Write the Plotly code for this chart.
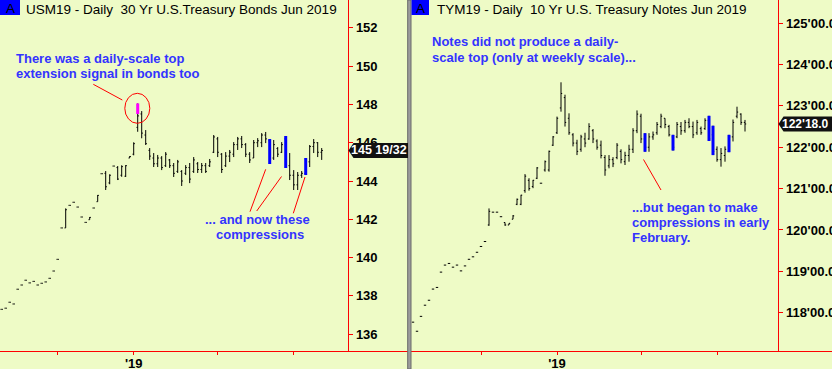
import plotly.graph_objects as go

W, H = 832, 369

# ---------------- data : USM19 (30 Yr T-Bond futures), daily bars ----------------
bond_idx = list(range(0, 81))
bond_open = [137.30, 137.36, 137.67, 137.58, 138.35, 138.57, 138.82, 138.68, 138.76, 138.57,
             138.66, 138.73, 138.92, 139.30, 139.91, 141.55, 141.55, 142.73, 142.89, 142.64,
             142.12, 141.84, 141.98, 142.59, 142.92, 144.38, 144.40, 143.90, 144.78, 144.70,
             144.30, 144.25, 145.20, 145.40, 146.80, 147.50, 146.40, 145.60, 145.20, 144.90,
             145.20, 144.80, 145.10, 144.80, 144.50, 144.50, 144.40, 144.70, 144.50, 144.90,
             144.60, 144.80, 144.80, 145.50, 146.20, 145.40, 144.80, 145.30, 145.40, 145.90,
             146.20, 145.90, 145.40, 145.20, 146.00, 146.00, 146.40, 146.10, 145.20, 145.70,
             145.50, 146.20, 144.80, 144.30, 143.80, 144.30, 144.40, 145.00, 145.80, 146.00,
             145.50]
bond_high = [137.30, 137.36, 137.67, 137.58, 138.35, 138.57, 138.82, 138.68, 138.76, 138.57,
             138.66, 138.73, 138.92, 139.30, 139.91, 141.55, 142.57, 142.73, 142.89, 142.64,
             142.12, 141.84, 142.12, 142.59, 143.27, 144.38, 144.52, 144.35, 144.78, 144.78,
             144.82, 144.83, 145.30, 146.02, 148.05, 147.65, 146.66, 145.72, 145.46, 145.36,
             145.30, 145.51, 145.15, 144.94, 145.10, 144.57, 144.83, 144.94, 145.25, 144.99,
             144.94, 144.94, 145.15, 146.40, 146.30, 145.46, 145.51, 145.62, 146.03, 146.30,
             146.35, 145.98, 145.51, 146.14, 146.24, 146.50, 146.56, 146.19, 146.14, 145.77,
             146.03, 146.35, 145.46, 144.57, 144.47, 144.52, 145.20, 145.88, 146.19, 146.03,
             145.72]
bond_low = [137.30, 137.36, 137.67, 137.58, 138.35, 138.57, 138.82, 138.68, 138.76, 138.57,
            138.66, 138.73, 138.92, 139.30, 139.91, 141.55, 141.55, 142.73, 142.89, 142.64,
            142.12, 141.84, 141.98, 142.59, 142.92, 144.38, 143.53, 143.83, 144.78, 144.05,
            144.22, 144.21, 145.20, 145.34, 146.57, 146.23, 145.88, 145.10, 144.73, 144.73,
            144.57, 144.73, 144.68, 144.21, 144.42, 143.74, 144.31, 143.89, 144.42, 144.42,
            144.42, 144.42, 144.73, 145.46, 145.25, 144.42, 144.73, 144.99, 145.25, 145.62,
            145.72, 145.25, 144.94, 145.20, 145.77, 145.77, 145.98, 144.89, 145.10, 145.25,
            145.46, 144.68, 144.05, 143.53, 143.53, 144.16, 144.31, 144.73, 145.46, 145.25,
            145.10]
bond_close = [137.30, 137.36, 137.67, 137.58, 138.35, 138.57, 138.82, 138.68, 138.76, 138.57,
              138.66, 138.73, 138.92, 139.30, 139.91, 141.55, 142.50, 142.73, 142.89, 142.64,
              142.12, 141.84, 142.10, 142.59, 143.25, 144.38, 143.70, 144.30, 144.78, 144.10,
              144.75, 144.80, 145.28, 145.95, 147.40, 146.50, 145.95, 145.30, 144.90, 145.20,
              144.70, 145.40, 144.80, 144.40, 145.00, 144.00, 144.70, 144.10, 145.10, 144.60,
              144.80, 144.50, 145.00, 146.30, 145.50, 144.60, 145.30, 145.50, 145.90, 146.20,
              145.90, 145.40, 145.10, 146.00, 146.10, 146.40, 146.20, 145.00, 145.90, 145.40,
              145.90, 144.80, 144.30, 143.80, 144.30, 144.40, 145.10, 145.80, 146.00, 145.50,
              145.594]
bond_compress_idx = [67, 71, 76]          # blue compression bars
bond_signal_idx = [34]                     # magenta top-extension signal bar
bond_signal_from = [147.50]                # magenta segment runs from here up to the high

# ---------------- data : TYM19 (10 Yr T-Note futures), daily bars ----------------
note_idx = list(range(-3, 81))
note_open = [117.77, 117.55, 117.91, 118.18, 118.30, 118.57, 118.61, 118.98, 119.15, 119.19,
             119.10, 119.15, 119.01, 119.13, 119.29, 119.35, 119.46, 119.60, 119.72, 120.12,
             120.43, 120.43, 120.32, 120.18, 120.12, 120.26, 120.62, 120.62, 120.95, 121.20,
             121.05, 121.25, 121.13, 121.45, 121.45, 122.05, 122.35, 122.95, 123.20, 122.70,
             122.30, 122.10, 121.95, 122.20, 122.20, 122.40, 122.15, 122.05, 121.75, 121.55,
             121.70, 121.75, 121.90, 121.65, 121.80, 121.95, 122.40, 122.75, 122.20, 122.00,
             122.25, 122.35, 122.50, 122.70, 122.50, 122.25, 122.25, 122.50, 122.40, 122.60,
             122.50, 122.35, 122.45, 122.45, 122.65, 122.30, 121.95, 121.70, 121.80, 121.90,
             122.25, 122.75, 122.80, 122.60]
note_high = [117.77, 117.55, 117.91, 118.18, 118.30, 118.57, 118.61, 118.98, 119.15, 119.19,
             119.10, 119.15, 119.01, 119.13, 119.29, 119.35, 119.46, 119.60, 119.72, 120.52,
             120.43, 120.43, 120.32, 120.18, 120.16, 120.36, 120.76, 120.85, 121.35, 121.25,
             121.21, 121.52, 121.13, 121.68, 121.92, 122.27, 122.74, 123.57, 123.27, 122.82,
             122.34, 122.18, 122.30, 122.35, 122.58, 122.44, 122.19, 122.16, 121.81, 121.81,
             121.76, 122.10, 121.95, 121.89, 122.06, 122.46, 122.89, 122.81, 122.34, 122.34,
             122.38, 122.61, 122.81, 122.70, 122.54, 122.30, 122.61, 122.61, 122.66, 122.70,
             122.62, 122.66, 122.50, 122.70, 122.76, 122.52, 122.02, 121.98, 122.02, 122.30,
             122.67, 122.98, 122.82, 122.66]
note_low = [117.77, 117.55, 117.91, 118.18, 118.30, 118.57, 118.61, 118.98, 119.15, 119.19,
            119.10, 119.15, 119.01, 119.13, 119.29, 119.35, 119.46, 119.60, 119.72, 120.10,
            120.43, 120.43, 120.32, 120.10, 120.12, 120.26, 120.60, 120.60, 120.90, 120.95,
            121.01, 121.23, 121.13, 121.41, 121.41, 122.03, 122.32, 122.86, 122.50, 122.30,
            122.02, 121.81, 121.89, 122.00, 122.18, 122.10, 121.94, 121.73, 121.31, 121.49,
            121.52, 121.71, 121.61, 121.57, 121.65, 121.86, 122.34, 122.10, 121.89, 121.89,
            122.18, 122.30, 122.46, 122.46, 122.26, 121.92, 122.22, 122.30, 122.35, 122.46,
            122.22, 122.30, 122.30, 122.42, 122.15, 121.81, 121.65, 121.53, 121.65, 121.88,
            122.14, 122.70, 122.54, 122.38]
note_close = [117.77, 117.55, 117.91, 118.18, 118.30, 118.57, 118.61, 118.98, 119.15, 119.19,
              119.10, 119.15, 119.01, 119.13, 119.29, 119.35, 119.46, 119.60, 119.72, 120.45,
              120.43, 120.43, 120.32, 120.12, 120.16, 120.34, 120.74, 120.84, 121.30, 121.00,
              121.20, 121.50, 121.13, 121.65, 121.90, 122.25, 122.70, 123.30, 122.60, 122.35,
              122.10, 121.90, 122.25, 122.10, 122.50, 122.20, 122.00, 121.80, 121.45, 121.70,
              121.60, 122.05, 121.70, 121.80, 121.95, 122.40, 122.80, 122.20, 122.00, 122.25,
              122.30, 122.55, 122.75, 122.55, 122.30, 122.00, 122.55, 122.40, 122.60, 122.50,
              122.30, 122.60, 122.35, 122.65, 122.20, 121.90, 121.70, 121.85, 121.95, 122.25,
              122.60, 122.85, 122.60, 122.5625]
note_compress_idx = [55, 62, 71, 72, 76]

# ---------------- axis ticks ----------------
month_ticks = [14, 33, 54, 73]
month_labels = ["", "'19", "", ""]
bond_yticks = [136, 138, 140, 142, 144, 146, 148, 150, 152]
bond_ylabels = ["136", "138", "140", "142", "144", "146", "148", "150", "152"]
note_yticks = [118, 119, 120, 121, 122, 123, 124, 125]
note_ylabels = ["118'00.0", "119'00.0", "120'00.0", "121'00.0",
                "122'00.0", "123'00.0", "124'00.0", "125'00.0"]
bond_last_label = "145 19/32"
note_last_label = "122'18.0"

# ---------------- styling ----------------
BG = "#EEFBC6"
RED = "#FF0000"
BLUE_TXT = "#3333FF"
FONT = "Arial, 'Liberation Sans', sans-serif"


def px(x):
    return x / W


def py(y):
    return 1 - y / H


def seg(idx, lo, hi, pick):
    xs, ys = [], []
    for i in pick:
        k = idx.index(i)
        xs += [i, i, None]
        ys += [lo[k], hi[k], None]
    return xs, ys


fig = go.Figure()

ohlc_style = dict(increasing=dict(line=dict(color="black", width=1)),
                  decreasing=dict(line=dict(color="black", width=1)),
                  tickwidth=0.3, showlegend=False, hoverinfo="skip")

fig.add_trace(go.Ohlc(x=bond_idx, open=bond_open, high=bond_high, low=bond_low,
                      close=bond_close, xaxis="x", yaxis="y", **ohlc_style))
fig.add_trace(go.Ohlc(x=note_idx, open=note_open, high=note_high, low=note_low,
                      close=note_close, xaxis="x2", yaxis="y2", **ohlc_style))

# compression bars (blue)
bx, by = seg(bond_idx, bond_low, bond_high, bond_compress_idx)
fig.add_trace(go.Scatter(x=bx, y=by, mode="lines", line=dict(color="#0000FF", width=3),
                         xaxis="x", yaxis="y", showlegend=False, hoverinfo="skip"))
nx, ny = seg(note_idx, note_low, note_high, note_compress_idx)
fig.add_trace(go.Scatter(x=nx, y=ny, mode="lines", line=dict(color="#0000FF", width=3),
                         xaxis="x2", yaxis="y2", showlegend=False, hoverinfo="skip"))
# magenta signal
mx, my = [], []
for i, lo in zip(bond_signal_idx, bond_signal_from):
    mx += [i, i, None]
    my += [lo, bond_high[bond_idx.index(i)], None]
fig.add_trace(go.Scatter(x=mx, y=my, mode="lines", line=dict(color="#FF00FF", width=3),
                         xaxis="x", yaxis="y", showlegend=False, hoverinfo="skip"))

tickfont = dict(family=FONT, size=13, color="black", weight="bold")
ydom = [py(350.7), 1]

xcommon = dict(showline=True, linecolor=RED, linewidth=1, ticks="outside", ticklen=3,
               tickcolor=RED, tickwidth=1, showgrid=False, zeroline=False,
               tickmode="array", tickvals=month_ticks, ticktext=month_labels,
               tickfont=tickfont, rangeslider=dict(visible=False), fixedrange=True,
               automargin=False, ticklabelstandoff=-2)
ycommon = dict(showline=True, linecolor=RED, linewidth=1, ticks="outside", ticklen=4,
               tickcolor=RED, tickwidth=1, showgrid=False, zeroline=False,
               tickmode="array", side="right", anchor="free", domain=ydom,
               fixedrange=True, automargin=False)

fig.update_layout(
    width=W, height=H, margin=dict(l=0, r=0, t=0, b=0, autoexpand=False),
    paper_bgcolor=BG, plot_bgcolor=BG, showlegend=False,
    xaxis=dict(domain=[0, px(407.7)], range=[-0.425, 101.5], anchor="y", **xcommon),
    yaxis=dict(range=[135.14, 153.45], position=px(348.3), tickvals=bond_yticks,
               ticktext=bond_ylabels, tickfont=tickfont, **ycommon),
    xaxis2=dict(domain=[px(411), 1], range=[-3.5, 101.75], anchor="y2", **xcommon),
    yaxis2=dict(range=[117.08, 125.56], position=px(778.3), tickvals=note_yticks,
                ticktext=note_ylabels, tickfont=tickfont, **ycommon),
)

shapes = []
# grey divider between panels
shapes.append(dict(type="rect", xref="paper", yref="paper", x0=px(407.7), x1=px(411),
                   y0=0, y1=1, fillcolor="#9C9C9C", line=dict(color="#6A6A6A", width=1),
                   layer="above"))
# blue "A" boxes
for x0, x1 in [(0, 20), (411.5, 429)]:
    shapes.append(dict(type="rect", xref="paper", yref="paper", x0=px(x0), x1=px(x1),
                       y0=py(15), y1=py(0), fillcolor="#0000FF", line=dict(width=0)))
# red circle around the signal bar
shapes.append(dict(type="circle", xref="paper", yref="paper", x0=px(124.8), x1=px(149.8),
                   y0=py(123.3), y1=py(93.3), line=dict(color=RED, width=1)))
# red pointer lines
for (x0, y0, x1, y1) in [(93.3, 84.3, 122.3, 100.0),
                         (250.0, 211.7, 265.7, 169.3),
                         (256.7, 211.0, 281.5, 176.5),
                         (293.3, 213.3, 305.0, 177.0),
                         (643.5, 159.5, 661.0, 190.0)]:
    shapes.append(dict(type="line", xref="paper", yref="paper", x0=px(x0), y0=py(y0),
                       x1=px(x1), y1=py(y1), line=dict(color=RED, width=1)))
# last-price tags (black, arrow pointing to the axis)
for yref, last, xa, xb in [("y", bond_close[-1], 348.5, 408), ("y2", note_close[-1], 778.5, 833)]:
    shapes.append(dict(type="path", xref="paper", yref=yref, ysizemode="pixel", yanchor=last,
                       path=f"M {px(xa)},0 L {px(xa + 5)},7.5 L {px(xb)},7.5 L {px(xb)},-7.5 "
                            f"L {px(xa + 5)},-7.5 Z",
                       fillcolor="#111111", line=dict(width=0), layer="above"))
fig.update_layout(shapes=shapes)

ann = []


def text(x, y, s, color=BLUE_TXT, size=13, weight="bold", anchor="left", **kw):
    ann.append(dict(x=px(x), y=py(y), xref="paper", yref="paper", text=s, showarrow=False,
                    xanchor=anchor, yanchor="middle",
                    font=dict(family=FONT, size=size, color=color, weight=weight), **kw))


# titles
text(10, 8, "A", color="black", size=13.5, weight="normal", anchor="center")
text(420, 8, "A", color="black", size=13.5, weight="normal", anchor="center")
text(23.5, 9, "USM19 - Daily\u00a0 30 Yr U.S.Treasury Bonds Jun 2019", color="black",
     size=13.5, weight="normal")
text(435, 9, "TYM19 - Daily\u00a0 10 Yr U.S. Treasury Notes Jun 2019", color="black",
     size=13.5, weight="normal")
# commentary
text(14, 59, "There was a daily-scale top")
text(14, 73.5, "extension signal in bonds too")
text(257, 219.5, "... and now these", anchor="center")
text(259.5, 234.5, "compressions", anchor="center")
text(430, 42, "Notes did not produce a daily-")
text(430, 57, "scale top (only at weekly scale)...")
text(629.5, 207, "...but began to make")
text(629.5, 222, "compressions in early")
text(629.5, 237, "February.")

# last price labels
ann.append(dict(x=px(379), y=bond_close[-1], xref="paper", yref="y", text=bond_last_label,
                showarrow=False, xanchor="center", yanchor="middle",
                font=dict(family=FONT, size=12.5, color="white", weight="bold")))
ann.append(dict(x=px(805.5), y=note_close[-1], xref="paper", yref="y2", text=note_last_label,
                showarrow=False, xanchor="center", yanchor="middle",
                font=dict(family=FONT, size=12, color="white", weight="bold")))
fig.update_layout(annotations=ann)

fig.write_html("out.html", config={"displayModeBar": False},
               post_script="document.body.style.margin='0';document.body.style.overflow='hidden';")
